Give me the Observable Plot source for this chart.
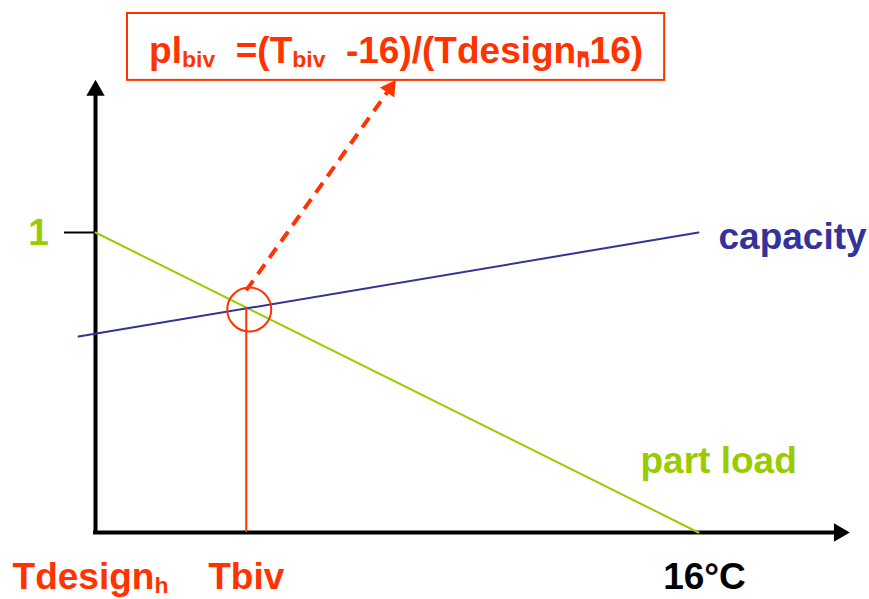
<!DOCTYPE html>
<html><head><meta charset="utf-8">
<script src="https://cdn.jsdelivr.net/npm/d3@7"></script>
<script src="https://cdn.jsdelivr.net/npm/@observablehq/plot@0.6"></script>
<style>body{margin:0;background:#fff} svg text{white-space:pre}</style>
</head><body><div id="chart"></div>
<script>
// x: outdoor temperature (°C), y: relative capacity / part load
const tDesign = -10;
const tBiv = -3.5;
const tLimit = 16;
const xAxisEnd = 22.5;
const yAxisEnd = 1.507;
const partLoadT = [-10, 16];
const partLoadV = [1, 0];
const capacityT = [-10.73, 16];
const capacityV = [0.653, 1.0];
const pointBiv = 0.75;
const yTicks = [1];
const yTickLabels = ["1"];
const xTickT = [-10, -3.5, 16];
const xTickLabels = ["Tdesign_{h}", "Tbiv", "16°C"];
const xTickColors = ["#ff3300", "#ff3300", "#000000"];
const xTickShift = [-5, 0, 6];
const seriesNames = ["capacity", "part load"];
const formula = "pl_{biv}  =(T_{biv}  -16)/(Tdesign_{h}<{13}-16)";
// annotation geometry (data units)
const box = {x1: -8.62, x2: 14.54, y1: 1.507, y2: 1.73};
const arrowFrom = {x: -3.5, y: 0.807};
const arrowTo = {x: 2.94, y: 1.507};

const RED = "#ff3300", GREEN = "#99cc00", BLUE = "#333399";
const FONT = "Liberation Sans, Arial, sans-serif";
const FS = 37;

const plot = Plot.plot({
  width: 869, height: 599,
  marginLeft: 95, marginRight: 171, marginTop: 232, marginBottom: 67,
  x: {domain: [tDesign, tLimit], axis: null},
  y: {domain: [0, 1], axis: null},
  color: {type: "identity"},
  style: {fontFamily: FONT, background: "white", overflow: "visible"},
  marks: [
    // formula box
    Plot.rect([0], {x1: box.x1, x2: box.x2, y1: box.y1, y2: box.y2, stroke: RED, strokeWidth: 2, fill: "white"}),
    Plot.text([formula], {x: (box.x1 + box.x2) / 2, y: box.y2, text: d => d, lineAnchor: "bottom", dy: 49,
      fill: RED, fontSize: FS, fontWeight: "bold", textAnchor: "middle"}),
    // axes
    Plot.ruleX([tDesign], {y1: 0, y2: yAxisEnd - 0.04, stroke: "black", strokeWidth: 4, strokeLinecap: "square"}),
    Plot.ruleY([0], {x1: tDesign, x2: xAxisEnd - 0.5, stroke: "black", strokeWidth: 4, strokeLinecap: "square"}),
    Plot.dot([0], {x: tDesign, y: yAxisEnd, symbol: "triangle", r: 6.8, fill: "black", dy: 10}),
    Plot.dot([0], {x: xAxisEnd, y: 0, symbol: "triangle", r: 6.8, fill: "black", dx: -10, rotate: 90}),
    // y tick
    Plot.ruleY(yTicks, {y: d => d, x1: tDesign, x2: tDesign, insetLeft: -31, stroke: "black", strokeWidth: 2}),
    Plot.text(yTicks, {x: tDesign, y: d => d, text: (d, i) => yTickLabels[i], dx: -57, dy: 12, lineAnchor: "bottom",
      fill: GREEN, fontSize: FS, fontWeight: "bold", textAnchor: "middle"}),
    // series lines
    Plot.line(partLoadT.map((t, i) => ({t, v: partLoadV[i]})), {x: "t", y: "v", stroke: GREEN, strokeWidth: 2}),
    Plot.line(capacityT.map((t, i) => ({t, v: capacityV[i]})), {x: "t", y: "v", stroke: BLUE, strokeWidth: 2}),
    // bivalent point
    Plot.ruleX([tBiv], {y1: 0, y2: pointBiv, stroke: RED, strokeWidth: 2}),
    Plot.dot([0], {x: tBiv, y: pointBiv, r: 22, stroke: RED, strokeWidth: 2, fill: "none", dx: 3, dy: 2}),
    // dashed arrow
    Plot.link([0], {x1: arrowFrom.x, y1: arrowFrom.y, x2: arrowTo.x - 0.3, y2: arrowTo.y - 0.033,
      stroke: RED, strokeWidth: 4, strokeDasharray: "12,8"}),
    Plot.dot([0], {x: arrowTo.x, y: arrowTo.y, symbol: "triangle", r: 6.5, fill: RED, rotate: 35, dx: -5.6, dy: 8}),
    // series labels
    Plot.text([seriesNames[0]], {x: capacityT[1], y: capacityV[1], text: d => d, dx: 20, dy: 16, lineAnchor: "bottom",
      textAnchor: "start", fill: BLUE, fontSize: FS, fontWeight: "bold"}),
    Plot.text([seriesNames[1]], {x: partLoadT[1], y: partLoadV[1], text: d => d, dx: -58, dy: -60, lineAnchor: "bottom",
      textAnchor: "start", fill: GREEN, fontSize: FS, fontWeight: "bold"}),
    // x labels
    ...xTickT.map((t, i) => Plot.text([t], {x: d => d, y: 0, text: () => xTickLabels[i], fill: xTickColors[i],
      dx: xTickShift[i], dy: 56, lineAnchor: "bottom", textAnchor: "middle", fontSize: FS, fontWeight: "bold"}))
  ]
});
document.getElementById("chart").appendChild(plot);

// subscripts / backspace markup
plot.querySelectorAll("text").forEach(t => {
  const s = t.textContent;
  if (!/[_<]\{/.test(s)) return;
  const fs = parseFloat(getComputedStyle(t).fontSize) || FS;
  t.textContent = "";
  const re = /([_<])\{([^}]*)\}|([^_<]+)/g;
  let m, shifted = false, pendingDx = 0;
  while ((m = re.exec(s))) {
    if (m[1] === "<") { pendingDx -= parseFloat(m[2]); continue; }
    const sp = document.createElementNS("http://www.w3.org/2000/svg", "tspan");
    if (m[1] === "_") {
      sp.textContent = m[2];
      sp.setAttribute("font-size", fs * 0.62);
      sp.setAttribute("dy", fs * 0.12);
      shifted = true;
    } else {
      sp.textContent = m[3];
      if (shifted) { sp.setAttribute("dy", -fs * 0.12); shifted = false; }
    }
    if (pendingDx) { sp.setAttribute("dx", pendingDx); pendingDx = 0; }
    t.appendChild(sp);
  }
});
</script></body></html>
